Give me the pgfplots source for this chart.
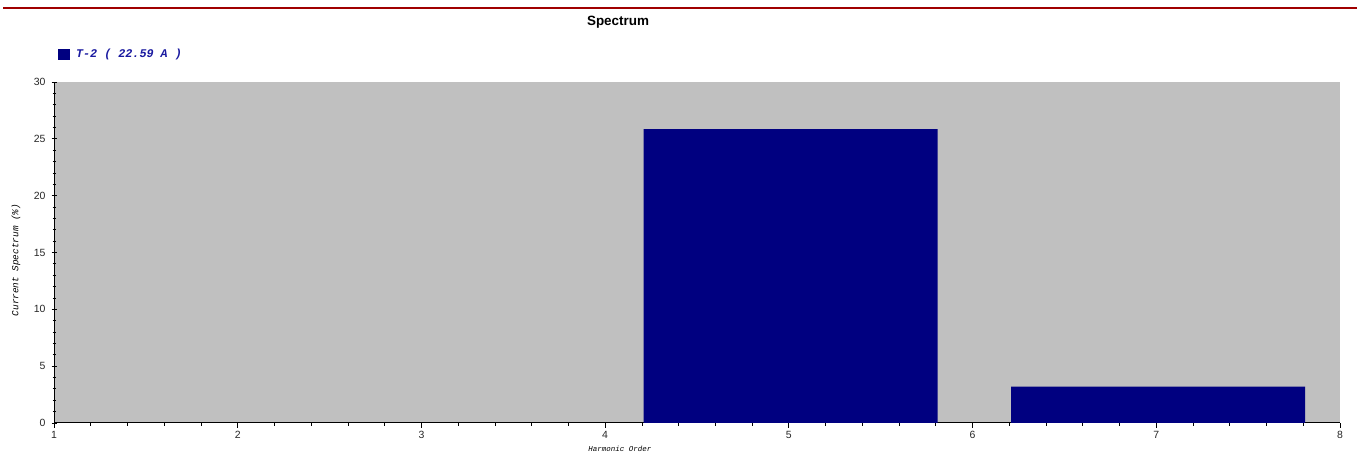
\documentclass[border=0pt]{standalone}
\usepackage{pgfplots}
\pgfplotsset{compat=1.18}
\usepackage{fontspec}
\setmainfont{Liberation Sans}
\newfontfamily\monofont{Liberation Mono}
\definecolor{navy}{HTML}{000080}
\definecolor{bggray}{HTML}{C0C0C0}
\definecolor{darkred}{HTML}{A00000}
\definecolor{legblue}{HTML}{1A1AA0}
\begin{document}
\begin{tikzpicture}[x=1bp,y=1bp]
\path[use as bounding box] (0,0) rectangle (1357,457);
\draw[darkred, line width=1.2bp] (3,449) -- (1357,449);
\begin{axis}[
  at={(54bp,34bp)}, anchor=south west,
  scale only axis, width=1286bp, height=341bp,
  xmin=1, xmax=8, ymin=0, ymax=30,
  axis background/.style={fill=bggray},
  axis x line*=bottom, axis y line*=left,
  axis line style={black, line width=1bp},
  xtick={1,2,...,8}, ytick={0,5,...,30},
  minor x tick num=4, minor y tick num=4,
  tick align=outside,
  major tick length=5bp, minor tick length=3bp,
  tick style={black, line width=0.8bp},
  every major y tick/.style={xshift=2.5bp},
  every minor y tick/.style={xshift=1.5bp},
  /pgf/number format/assume math mode=true,
  ticklabel style={font=\fontsize{10.5}{12}\selectfont, text=black!85},
  title={Spectrum},
  title style={font=\bfseries\fontsize{13.5}{16}\selectfont, at={(axis description cs:0.4386,1)}, anchor=center, yshift=54bp},
  xlabel={Harmonic Order},
  xlabel style={font=\monofont\itshape\fontsize{7.5}{9}\selectfont, at={(axis description cs:0.44,-0.076)}, anchor=center},
  ylabel={Current Spectrum (\%)},
  ylabel style={font=\monofont\itshape\fontsize{9.4}{11}\selectfont, at={(axis description cs:-0.0295,0.478)}, anchor=center},
  legend style={draw=none, fill=none, at={(axis description cs:0.003,1.082)}, anchor=west, inner sep=0pt,
    font=\monofont\bfseries\itshape\fontsize{11.8}{13}\selectfont, text=legblue},
  legend image code/.code={\fill[navy] (0bp,-5.5bp) rectangle (12bp,5.5bp);},
  legend cell align=left,
]
\addplot[ybar, bar width=1.6, bar shift=0.01, fill=navy, draw=none] coordinates {(5,25.86) (7,3.2)};
\addlegendentry{\hspace{4bp}T-2 ( 22.59 A )}
\end{axis}
\end{tikzpicture}
\end{document}
